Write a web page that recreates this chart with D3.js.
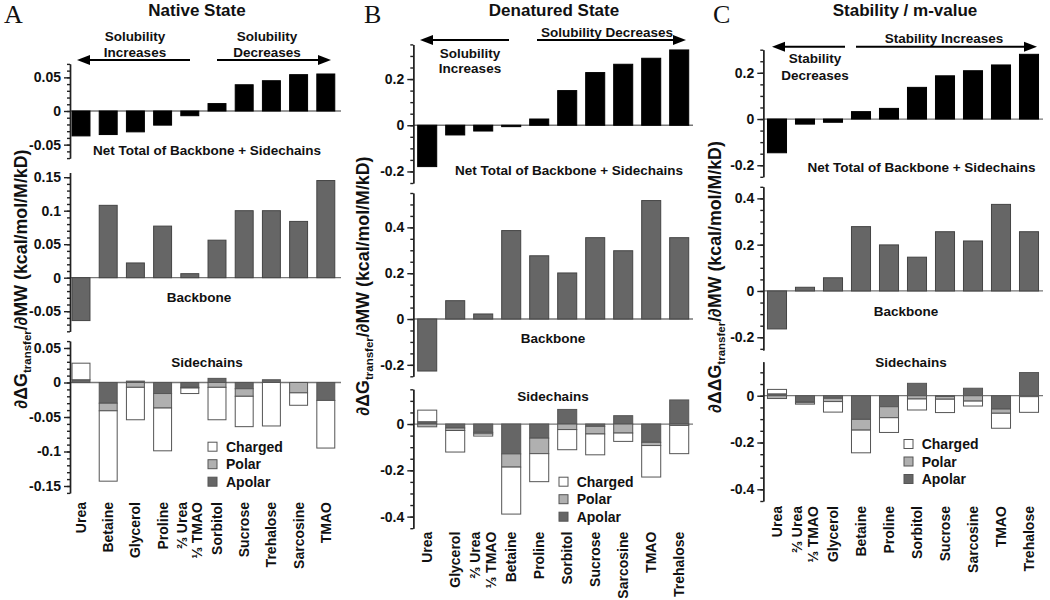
<!DOCTYPE html>
<html>
<head>
<meta charset="utf-8">
<script src="https://cdn.jsdelivr.net/npm/d3@7"></script>
<style>
  body { margin: 0; background: #fff; }
  svg text { font-family: "Liberation Sans", Arial, sans-serif; font-weight: bold; fill: #111; }
  .axis path, .axis line { stroke: #222; stroke-width: 1.4; }
</style>
</head>
<body>
<svg id="chart" width="1050" height="600"></svg>
<script>
// ── data ────────────────────────────────────────────────────────────────
// categories (order differs from panel to panel)
const catsA = ["Urea", "Betaine", "Glycerol", "Proline", "⅔ Urea\n⅓ TMAO", "Sorbitol", "Sucrose", "Trehalose", "Sarcosine", "TMAO"];
const catsB = ["Urea", "Glycerol", "⅔ Urea\n⅓ TMAO", "Betaine", "Proline", "Sorbitol", "Sucrose", "Sarcosine", "TMAO", "Trehalose"];
const catsC = ["Urea", "⅔ Urea\n⅓ TMAO", "Glycerol", "Betaine", "Proline", "Sorbitol", "Sucrose", "Sarcosine", "TMAO", "Trehalose"];

// A: native state
const netA      = [-0.037, -0.035, -0.031, -0.021, -0.007, 0.011, 0.039, 0.045, 0.054, 0.055];
const backboneA = [-0.064, 0.108, 0.022, 0.077, 0.006, 0.056, 0.100, 0.100, 0.084, 0.145];
const apolarA   = [0.004, -0.030, 0.002, -0.016, -0.007, 0.006, -0.009, 0.004, 0.000, -0.026];
const polarA    = [0.000, -0.011, -0.007, -0.021, -0.001, -0.007, -0.011, 0.000, -0.015, 0.000];
const chargedA  = [0.024, -0.102, -0.047, -0.062, -0.008, -0.047, -0.044, -0.063, -0.018, -0.069];

// B: denatured state
const netB      = [-0.179, -0.042, -0.025, -0.006, 0.027, 0.150, 0.228, 0.264, 0.290, 0.326];
const backboneB = [-0.227, 0.080, 0.022, 0.386, 0.276, 0.201, 0.355, 0.298, 0.517, 0.355];
const apolarB   = [0.010, -0.017, -0.036, -0.129, -0.061, 0.063, -0.010, 0.036, -0.079, 0.104];
const polarB    = [-0.012, -0.011, -0.007, -0.057, -0.067, -0.024, -0.033, -0.039, -0.014, -0.006];
const chargedB  = [0.050, -0.093, -0.009, -0.203, -0.121, -0.087, -0.090, -0.036, -0.136, -0.122];

// C: stability / m-value
const netC      = [-0.146, -0.022, -0.014, 0.032, 0.046, 0.137, 0.187, 0.209, 0.234, 0.280];
const backboneC = [-0.164, 0.016, 0.057, 0.278, 0.199, 0.146, 0.256, 0.216, 0.374, 0.256];
const apolarC   = [0.008, -0.027, -0.011, -0.101, -0.047, 0.053, -0.003, 0.032, -0.057, 0.099];
const polarC    = [-0.012, -0.003, -0.014, -0.046, -0.047, -0.014, -0.012, -0.023, -0.018, -0.004];
const chargedC  = [0.019, -0.006, -0.045, -0.097, -0.063, -0.047, -0.057, -0.021, -0.064, -0.067];

const legendKeys = ["Charged", "Polar", "Apolar"];
const FILL = { apolar: "#666", polar: "#b0b0b0", charged: "#fff", backbone: "#666", net: "#000" };

// ── layout per panel ────────────────────────────────────────────────────
const panels = [
  {
    letter: "A", title: "Native State", titleX: 197, letterX: 4,
    cats: catsA, net: netA, backbone: backboneA, apolar: apolarA, polar: polarA, charged: chargedA,
    xRange: [67.4, 339.4], pad: 0.34, axisX: 70, right: 341,
    top: { dom: [-0.07, 0.07],  rng: [158.1, 63.9],  ticks: [0.05, 0, -0.05], minor: 0.01 },
    mid: { dom: [-0.08, 0.157], rng: [331.3, 172.5], ticks: [0.15, 0.1, 0.05, 0, -0.05], minor: 0.01 },
    bot: { dom: [-0.16, 0.06],  rng: [492.9, 341.1], ticks: [0.05, 0, -0.05, -0.1, -0.15], minor: 0.01 },
    netLbl: [207, 155], bbLbl: [199, 301.5], scLbl: [207, 367],
    legend: [208, 446.7, 226], xLblY: 502, yTitle: [27, 279, "∂ΔG"],
    arrows: [
      { from: 190, to: 77, y: 60, lines: ["Solubility", "Increases"], tx: 135, ty: [40.7, 56.7] },
      { from: 217, to: 331, y: 60, lines: ["Solubility", "Decreases"], tx: 267, ty: [40.7, 56.7] }
    ]
  },
  {
    letter: "B", title: "Denatured State", titleX: 554, letterX: 364,
    cats: catsB, net: netB, backbone: backboneB, apolar: apolarB, polar: polarB, charged: chargedB,
    xRange: [413.2, 693.2], pad: 0.32, axisX: 413.3, right: 693,
    top: { dom: [-0.25, 0.35],  rng: [183, 44.4],    ticks: [0.2, 0, -0.2], minor: 0.05 },
    mid: { dom: [-0.25, 0.55],  rng: [376.3, 193],   ticks: [0.4, 0.2, 0, -0.2], minor: 0.05 },
    bot: { dom: [-0.45, 0.15],  rng: [528.2, 389.3], ticks: [0, -0.2, -0.4], minor: 0.05 },
    netLbl: [569, 175], bbLbl: [553, 342.5], scLbl: [553, 400.5],
    legend: [559, 481.7, 576.7], xLblY: 531.7, yTitle: [369, 286, "∂ΔG"],
    arrows: [
      { from: 509, to: 420, y: 40, lines: ["Solubility", "Increases"], tx: 470, ty: [57.7, 72.7] },
      { from: 537, to: 686, y: 40, lines: ["Solubility Decreases"], tx: 607, ty: [37.3] }
    ]
  },
  {
    letter: "C", title: "Stability / m-value", titleX: 905, letterX: 713,
    cats: catsC, net: netC, backbone: backboneC, apolar: apolarC, polar: polarC, charged: chargedC,
    xRange: [763, 1043], pad: 0.32, axisX: 763.3, right: 1043,
    top: { dom: [-0.25, 0.3],   rng: [176.8, 49.7],  ticks: [0.2, 0, -0.2], minor: 0.05 },
    mid: { dom: [-0.255, 0.45], rng: [350, 186.8],   ticks: [0.4, 0.2, 0, -0.2], minor: 0.05 },
    bot: { dom: [-0.45, 0.145], rng: [501, 361.8],   ticks: [0, -0.2, -0.4], minor: 0.05 },
    netLbl: [921.5, 171.7], bbLbl: [906, 316], scLbl: [911, 367],
    legend: [904, 444, 921.7], xLblY: 506, yTitle: [721, 277, "∂ΔΔG"],
    arrows: [
      { from: 845, to: 772, y: 46.7, lines: ["Stability", "Decreases"], tx: 815, ty: [63, 79.5] },
      { from: 856, to: 1037, y: 46.7, lines: ["Stability Increases"], tx: 944, ty: [42.5] }
    ]
  }
];

const svg = d3.select("#chart");
const fmt = d => d === 0 ? "0" : String(+d.toFixed(3));

function drawAxis(g, y, cfg, x0) {
  const minorVals = d3.range(Math.ceil(cfg.dom[0] / cfg.minor - 1e-6), Math.floor(cfg.dom[1] / cfg.minor + 1e-6) + 1)
    .map(i => +(i * cfg.minor).toFixed(4));
  g.append("g").attr("class", "axis").attr("transform", `translate(${x0},0)`)
    .call(d3.axisLeft(y).tickValues(minorVals).tickSize(3).tickSizeOuter(0).tickFormat(""));
  const ax = g.append("g").attr("class", "axis").attr("transform", `translate(${x0},0)`)
    .call(d3.axisLeft(y).tickValues(cfg.ticks).tickSize(6).tickSizeOuter(0).tickPadding(3).tickFormat(fmt));
  ax.selectAll("text").attr("font-size", 14).attr("font-family", null);
  ax.attr("font-family", null);
}

function zeroLine(g, y, p) {
  g.append("line")
    .attr("x1", p.axisX).attr("x2", p.right)
    .attr("y1", y(0)).attr("y2", y(0))
    .attr("stroke", "#777").attr("stroke-width", 1.3);
}

function simpleBars(g, x, y, cats, vals, fill, stroke) {
  g.selectAll(null).data(cats).enter().append("rect")
    .attr("x", d => x(d))
    .attr("width", x.bandwidth())
    .attr("y", (d, i) => Math.min(y(vals[i]), y(0)))
    .attr("height", (d, i) => Math.abs(y(vals[i]) - y(0)))
    .attr("fill", fill)
    .attr("stroke", stroke).attr("stroke-width", 1);
}

function label(g, xy, txt) {
  g.append("text").attr("x", xy[0]).attr("y", xy[1])
    .attr("text-anchor", "middle").attr("font-size", 13.5).text(txt);
}

panels.forEach(p => {
  const g = svg.append("g");
  const x = d3.scaleBand().domain(p.cats).range(p.xRange).paddingInner(p.pad).paddingOuter(p.pad / 2);

  // letter + title
  g.append("text").attr("x", p.letterX).attr("y", 23)
    .attr("font-size", 26).style("font-family", "'Liberation Serif', 'Times New Roman', serif")
    .style("font-weight", "normal").text(p.letter);
  g.append("text").attr("x", p.titleX).attr("y", 16)
    .attr("text-anchor", "middle").attr("font-size", 17).text(p.title);

  // ── net total
  const yTop = d3.scaleLinear().domain(p.top.dom).range(p.top.rng);
  zeroLine(g, yTop, p);
  simpleBars(g, x, yTop, p.cats, p.net, FILL.net, "#000");
  drawAxis(g, yTop, p.top, p.axisX);
  label(g, p.netLbl, "Net Total of Backbone + Sidechains");

  // ── backbone
  const yMid = d3.scaleLinear().domain(p.mid.dom).range(p.mid.rng);
  zeroLine(g, yMid, p);
  simpleBars(g, x, yMid, p.cats, p.backbone, FILL.backbone, "#444");
  drawAxis(g, yMid, p.mid, p.axisX);
  label(g, p.bbLbl, "Backbone");

  // ── sidechains (stacked, diverging)
  const yBot = d3.scaleLinear().domain(p.bot.dom).range(p.bot.rng);
  zeroLine(g, yBot, p);
  const rows = p.cats.map((c, i) => ({ cat: c, apolar: p.apolar[i], polar: p.polar[i], charged: p.charged[i] }));
  const series = d3.stack().keys(["apolar", "polar", "charged"]).offset(d3.stackOffsetDiverging)(rows);
  g.selectAll(null).data(series).enter().append("g")
    .attr("fill", s => FILL[s.key])
    .selectAll("rect").data(s => s.filter(d => d[1] !== d[0])).enter().append("rect")
    .attr("x", d => x(d.data.cat))
    .attr("width", x.bandwidth())
    .attr("y", d => Math.min(yBot(d[0]), yBot(d[1])))
    .attr("height", d => Math.abs(yBot(d[1]) - yBot(d[0])))
    .attr("stroke", "#555").attr("stroke-width", 1);
  drawAxis(g, yBot, p.bot, p.axisX);
  label(g, p.scLbl, "Sidechains");

  // legend
  const leg = g.append("g");
  legendKeys.forEach((k, i) => {
    const cy = p.legend[1] + i * 17.5;
    leg.append("rect").attr("x", p.legend[0]).attr("y", cy - 4.5).attr("width", 9).attr("height", 9)
      .attr("fill", FILL[k.toLowerCase()]).attr("stroke", "#555").attr("stroke-width", 1);
    leg.append("text").attr("x", p.legend[2]).attr("y", cy + 5).attr("font-size", 14).text(k);
  });

  // x category labels (rotated)
  p.cats.forEach(c => {
    const lines = c.split("\n");
    const t = g.append("text")
      .attr("transform", `translate(${x(c) + x.bandwidth() / 2},${p.xLblY}) rotate(-90)`)
      .attr("text-anchor", "end").attr("font-size", 14);
    lines.forEach((ln, j) => {
      t.append("tspan").attr("x", 0)
        .attr("dy", j === 0 ? (0.35 - (lines.length - 1) * 0.55) + "em" : "1.1em")
        .text(ln);
    });
  });

  // y title
  const yt = g.append("text")
    .attr("transform", `translate(${p.yTitle[0]},${p.yTitle[1]}) rotate(-90)`)
    .attr("text-anchor", "middle").attr("font-size", 17.8);
  yt.append("tspan").text(p.yTitle[2]);
  yt.append("tspan").attr("font-size", 11.5).attr("dy", 4).text("transfer");
  yt.append("tspan").attr("dy", -4).text("/∂MW (kcal/mol/M/kD)");

  // arrows with annotations
  p.arrows.forEach(a => {
    const dir = Math.sign(a.to - a.from);
    const headL = 13, headH = 5;
    g.append("line").attr("x1", a.from).attr("x2", a.to - dir * headL)
      .attr("y1", a.y).attr("y2", a.y).attr("stroke", "#000").attr("stroke-width", 2);
    const path = d3.path();
    path.moveTo(a.to, a.y);
    path.lineTo(a.to - dir * headL, a.y - headH);
    path.lineTo(a.to - dir * headL, a.y + headH);
    path.closePath();
    g.append("path").attr("d", path.toString()).attr("fill", "#000");
    a.lines.forEach((ln, j) => {
      g.append("text").attr("x", a.tx).attr("y", a.ty[j])
        .attr("text-anchor", "middle").attr("font-size", 13.5).text(ln);
    });
  });
});
</script>
</body>
</html>
